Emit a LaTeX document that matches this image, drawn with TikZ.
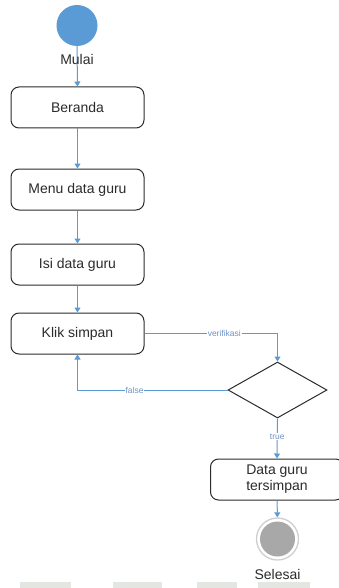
\documentclass[tikz,border=0pt]{standalone}
\usepackage{fontspec}
\setmainfont{Liberation Sans}
\usetikzlibrary{arrows.meta,shapes.geometric}
\definecolor{ink}{HTML}{2B2B2B}
\definecolor{flow}{HTML}{5B9BD5}
\definecolor{tag}{HTML}{6F93C4}
\definecolor{ring}{HTML}{CFCFCF}
\definecolor{stopfill}{HTML}{A8A8A8}
\definecolor{scan}{HTML}{E4E6E1}

\begin{document}
\begin{tikzpicture}[x=1pt,y=-1pt,
    font=\fontsize{14}{16}\selectfont,text=ink,
    >={Triangle[width=6pt,length=5pt]},
    act/.style={draw=ink,line width=1pt,rounded corners=8pt,fill=white,
      minimum width=133pt,minimum height=41pt,inner sep=2pt,align=center},
    flowline/.style={flow,line width=1pt,->},
    guard/.style={fill=white,text=tag,inner sep=1pt,
      font=\fontsize{8.5}{9}\selectfont}]
  \useasboundingbox (0,0) rectangle (339,588);

  % start
  \node[circle,fill=flow,minimum size=41pt,inner sep=0] (mulai) at (77,25.5) {};

  % activities
  \node[act] (beranda) at (77.5,107.5) {Beranda};
  \node[act] (menu) at (77.5,189.5) {Menu data guru};
  \node[act] (isi) at (77.5,264.5) {Isi data guru};
  \node[act] (klik) at (77.5,333.5) {Klik simpan};
  \node[diamond,draw=ink,line width=1pt,fill=white,inner sep=0,
    minimum width=99pt,minimum height=56pt] (cek) at (277.5,390) {};
  \node[act] (simpan) at (277,479.5) {Data guru\\tersimpan};

  % end
  \node[circle,draw=ring,line width=1.3pt,fill=white,
    minimum size=42pt,inner sep=0] (selesai) at (277.5,539) {};
  \fill[stopfill] (selesai) circle (17.5);

  \draw[flowline] (mulai) -- (beranda);
  \node (lblMulai) at (77,59) {Mulai};
  \draw[flowline] (beranda) -- (menu);
  \draw[flowline] (menu) -- (isi);
  \draw[flowline] (isi) -- (klik);
  \draw[flowline] (klik.east) -| (cek.north)
    node[guard,pos=0.3] {verifikasi};
  \draw[flowline] (cek.west) -| (klik.south)
    node[guard,pos=0.31] {false};
  \draw[flowline] (cek.south) -- (simpan.north)
    node[guard,pos=0.45] {true};
  \draw[flowline] (simpan) -- (selesai);
  \node (lblSelesai) at (277.5,574) {Selesai};

  % faint scan marks along the bottom
  \foreach \a/\b in {20/71,113/162,197/237,258/310}
    \fill[scan] (\a,582) rectangle (\b,588);
\end{tikzpicture}
\end{document}
